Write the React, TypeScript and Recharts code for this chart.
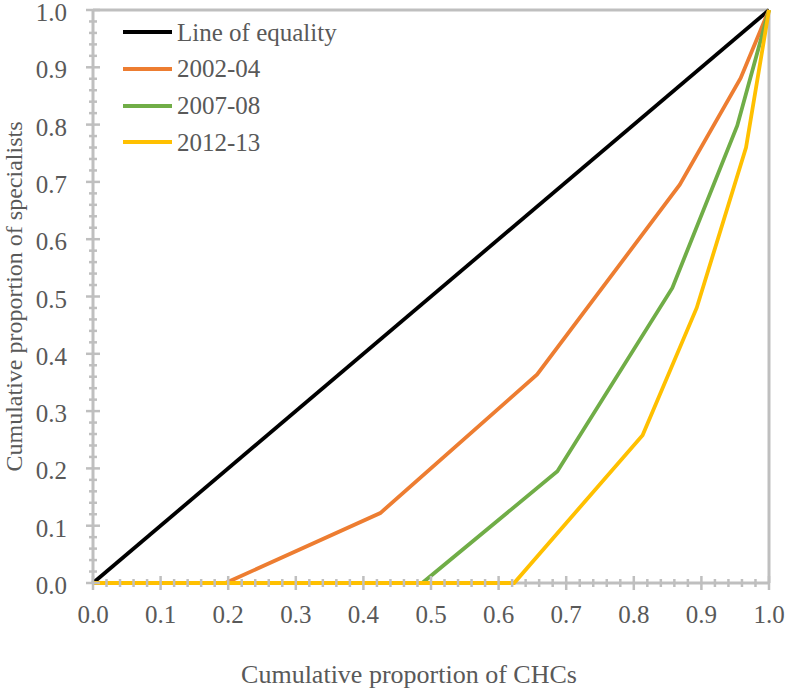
import React from 'react';
import { LineChart, Line, XAxis, YAxis, ReferenceLine, Legend } from 'recharts';

// ---- data ----
const seriesNames = ['Line of equality', '2002-04', '2007-08', '2012-13'];
const equalityX = [0, 1];
const equalityY = [0, 1];
const s2002X = [0, 0.196, 0.425, 0.657, 0.868, 0.958, 1];
const s2002Y = [0, 0, 0.122, 0.364, 0.695, 0.881, 1];
const s2007X = [0, 0.487, 0.687, 0.857, 0.953, 1];
const s2007Y = [0, 0, 0.195, 0.515, 0.798, 1];
const s2012X = [0, 0.623, 0.813, 0.893, 0.966, 1];
const s2012Y = [0, 0, 0.258, 0.48, 0.76, 1];

const majorTicks = [0, 0.1, 0.2, 0.3, 0.4, 0.5, 0.6, 0.7, 0.8, 0.9, 1.0];
const minorOffsets = [0.02, 0.04, 0.06, 0.08];

const xTitle = 'Cumulative proportion of CHCs';
const yTitle = 'Cumulative proportion of specialists';

// ---- styles ----
const COLORS = ['#000000', '#ED7D31', '#70AD47', '#FFC000'];
const AXIS = '#BFBFBF';
const TEXT = '#595959';
const FONT = '"Liberation Serif", "Times New Roman", serif';

const allTicks: number[] = [];
majorTicks.forEach((m, i) => {
  allTicks.push(m);
  if (i < majorTicks.length - 1) minorOffsets.forEach((o) => allTicks.push(Math.round((m + o) * 1000) / 1000));
});

const isMajor = (v: number) => Math.abs(v * 10 - Math.round(v * 10)) < 1e-6;

const toPoints = (xs: number[], ys: number[]) => xs.map((x, i) => ({ x, y: ys[i] }));
const seriesData = [
  toPoints(equalityX, equalityY),
  toPoints(s2002X, s2002Y),
  toPoints(s2007X, s2007Y),
  toPoints(s2012X, s2012Y),
];

const XTick = (props: any) => {
  const { x, y, payload } = props;
  const v = payload.value as number;
  const major = isMajor(v);
  const h = major ? 7 : 4;
  return (
    <g>
      <line x1={x} x2={x} y1={y - h} y2={y + h} stroke={AXIS} strokeWidth={2.5} />
      {major && (
        <text x={x} y={y + 40} textAnchor="middle" fontSize={25} fill={TEXT} fontFamily={FONT}>
          {v.toFixed(1)}
        </text>
      )}
    </g>
  );
};

const YTick = (props: any) => {
  const { x, y, payload } = props;
  const v = payload.value as number;
  const major = isMajor(v);
  const h = major ? 7 : 4;
  return (
    <g>
      <line x1={x - h} x2={x + h} y1={y} y2={y} stroke={AXIS} strokeWidth={2.5} />
      {major && (
        <text x={x - 26} y={y + 11} textAnchor="end" fontSize={25} fill={TEXT} fontFamily={FONT}>
          {v.toFixed(1)}
        </text>
      )}
    </g>
  );
};

const renderLegend = () => (
  <div style={{ fontFamily: FONT, fontSize: 25, color: TEXT }}>
    {seriesNames.map((name, i) => (
      <div key={name} style={{ display: 'flex', alignItems: 'center', height: 36.7 }}>
        <svg width={49} height={6} style={{ display: 'block' }}>
          <line x1={0} x2={49} y1={3} y2={3} stroke={COLORS[i]} strokeWidth={4} />
        </svg>
        <span style={{ marginLeft: 5, lineHeight: 1.1, whiteSpace: 'nowrap' }}>{name}</span>
      </div>
    ))}
  </div>
);

export default function App() {
  return (
    <div style={{ position: 'absolute', left: 0, top: 0, background: '#fff' }}>
      <LineChart width={787} height={692} margin={{ top: 10, right: 18, left: 0, bottom: 0 }}>
        <XAxis
          dataKey="x"
          type="number"
          domain={[0, 1]}
          ticks={allTicks}
          interval={0}
          tickSize={0}
          tickMargin={0}
          tickLine={false}
          tick={<XTick />}
          axisLine={{ stroke: AXIS, strokeWidth: 3 }}
          height={109}
          zIndex={100}
          label={{
            value: xTitle,
            position: 'insideBottom',
            offset: 9,
            dx: -22,
            style: { fontFamily: FONT, fontSize: 26, fill: TEXT },
          }}
        />
        <YAxis
          dataKey="y"
          type="number"
          domain={[0, 1]}
          ticks={allTicks}
          interval={0}
          tickSize={0}
          tickMargin={0}
          tickLine={false}
          tick={<YTick />}
          axisLine={{ stroke: AXIS, strokeWidth: 3 }}
          width={93}
          zIndex={100}
          label={{
            value: yTitle,
            angle: -90,
            position: 'insideLeft',
            offset: 13,
            style: { fontFamily: FONT, fontSize: 24, fill: TEXT, textAnchor: 'middle' },
          }}
        />
        <ReferenceLine y={1} stroke={AXIS} strokeWidth={3} zIndex={100} />
        <ReferenceLine x={1} stroke={AXIS} strokeWidth={3} zIndex={100} />
        <Legend
          layout="vertical"
          align="center"
          verticalAlign="middle"
          content={renderLegend}
          wrapperStyle={{ left: 123, top: 14, width: 'auto', height: 'auto' }}
        />
        {seriesData.map((d, i) => (
          <Line
            key={seriesNames[i]}
            data={d}
            dataKey="y"
            name={seriesNames[i]}
            type="linear"
            stroke={COLORS[i]}
            strokeWidth={3.8}
            dot={false}
            activeDot={false}
            isAnimationActive={false}
            zIndex={900}
          />
        ))}
      </LineChart>
    </div>
  );
}
